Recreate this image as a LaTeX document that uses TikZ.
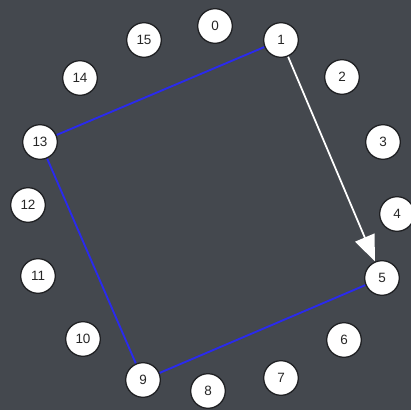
\documentclass[tikz,border=0pt]{standalone}
\usepackage{fontspec}
\setsansfont{Liberation Sans}
\usepackage{tikz}
\usetikzlibrary{arrows.meta,backgrounds}
\definecolor{Board}{HTML}{44484E}
\definecolor{CycleBlue}{HTML}{2A2AEE}
\definecolor{Ring}{HTML}{1E1F22}

\begin{document}
\begin{tikzpicture}[
  x=0.03cm,y=-0.03cm,
  font=\sffamily,
  slot/.style={
    circle,
    draw=Ring,
    line width=1.1pt,
    fill=white,
    minimum size=1.04cm,
    inner sep=0pt,
    font=\fontsize{11.5}{12}\selectfont\sffamily,
    text=black!85
  },
  chord/.style={draw=CycleBlue,line width=1.6pt},
  jump/.style={draw=white,line width=1.5pt,
    -{Triangle[width=0.62cm,length=0.78cm,fill=white]}}
]
\useasboundingbox (0,0) rectangle (411,410);
\clip (0,0) rectangle (411,410);

% The sixteen positions.
\foreach \n/\x/\y in {0/215/26,1/281/40,2/342/77,3/383/142,4/397/214,
  5/382/278,6/344/340,7/281/378,8/208/391,9/143/380,10/83/339,
  11/38/276,12/28/205,13/40/142,14/80/78,15/144/40}{
  \node[slot] (p\n) at (\x,\y) {\n};
}

% Board, cycle and step, behind the positions.
\begin{scope}[on background layer]
\fill[Board] (0,0) rectangle (411,410);
\draw[chord] (p1) -- (p13);
\draw[chord] (p13) -- (p9);
\draw[chord] (p9) -- (p5);
\draw[jump] (p1) -- (p5);
\end{scope}
\end{tikzpicture}
\end{document}
